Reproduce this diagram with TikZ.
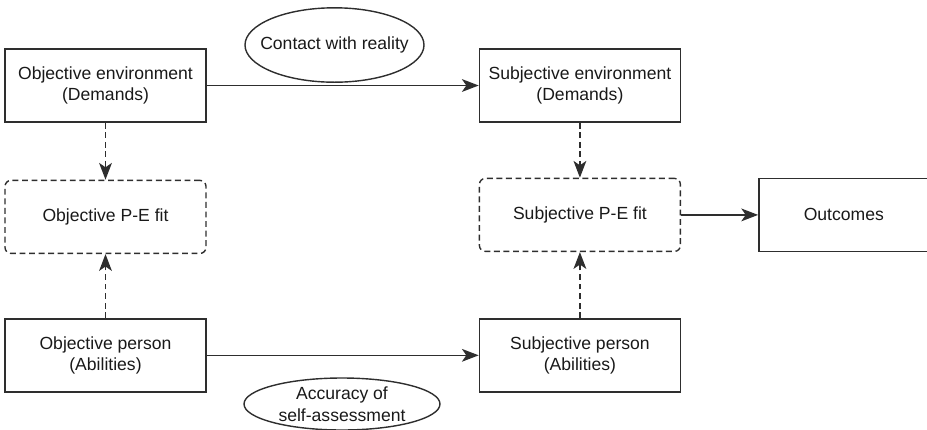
\documentclass[tikz,border=0pt]{standalone}
\usepackage{fontspec}
\setmainfont{Liberation Sans}
\usepackage{tikz}
\usetikzlibrary{shapes.geometric, arrows.meta}
\usetikzlibrary{shapes,positioning}
\definecolor{linegray}{HTML}{2E2E2E}
\tikzstyle{arrow} = [line width=1pt,-{Stealth[length=4.2mm,width=3.2mm,inset=1.1mm]}]

\begin{document}
\begin{tikzpicture}[node distance=1.4cm, every node/.style={font=\fontsize{12.5}{15.4}\selectfont, text=black!90, align=center}, draw=linegray, line width=1pt]
        \useasboundingbox (0,0) rectangle (23.175,-10.725);
        \tikzset{
            box/.style={draw=linegray, rectangle, inner sep=0pt, minimum width=5.025cm, minimum height=1.825cm},
            fitbox/.style={box, dash pattern=on 4.2pt off 2.6pt, rounded corners=0.15cm},
            oval/.style={inner sep=0pt}
        }
        % objective side
        \node[box] (objenv) at (2.6375,-2.1375) {Objective environment\\(Demands)};
        \node[fitbox] (objfit) [below=1.425cm of objenv] {Objective P-E fit};
        \node[box] (objper) [below=1.6cm of objfit] {Objective person\\(Abilities)};
        % subjective side
        \node[box] (subjenv) [right=6.8cm of objenv] {Subjective environment\\(Demands)};
        \node[fitbox] (subjfit) [below=1.375cm of subjenv] {Subjective P-E fit};
        \node[box] (subjper) at (subjenv |- objper) {Subjective person\\(Abilities)};
        \node[box, minimum width=4.25cm] (outcomes) [right=1.925cm of subjfit] {Outcomes};
        % ellipses
        \node[oval] (contact) at (8.3625,-1.125) {Contact with reality};
        \draw[linegray] (contact.center) ellipse [x radius=2.2375cm, y radius=0.93cm];
        \node[oval] (accuracy) at (8.55,-10.1) {Accuracy of\\self-assessment};
        \draw[linegray] (accuracy.center) ellipse [x radius=2.45cm, y radius=0.65cm];

        % connectors
        \draw[arrow, linegray] (objenv) -- (subjenv);
        \draw[arrow, linegray] (objper) -- (subjper);
        \draw[arrow, linegray] (subjfit) -- (outcomes);

        \draw[arrow, linegray, dash pattern=on 4.2pt off 2.6pt] (objenv) -- (objfit);
        \draw[arrow, linegray, dash pattern=on 4.2pt off 2.6pt] (objper) -- (objfit);
        \draw[arrow, linegray, dash pattern=on 4.2pt off 2.6pt] (subjenv) -- (subjfit);
        \draw[arrow, linegray, dash pattern=on 4.2pt off 2.6pt] (subjper) -- (subjfit);
    \end{tikzpicture}
\end{document}
